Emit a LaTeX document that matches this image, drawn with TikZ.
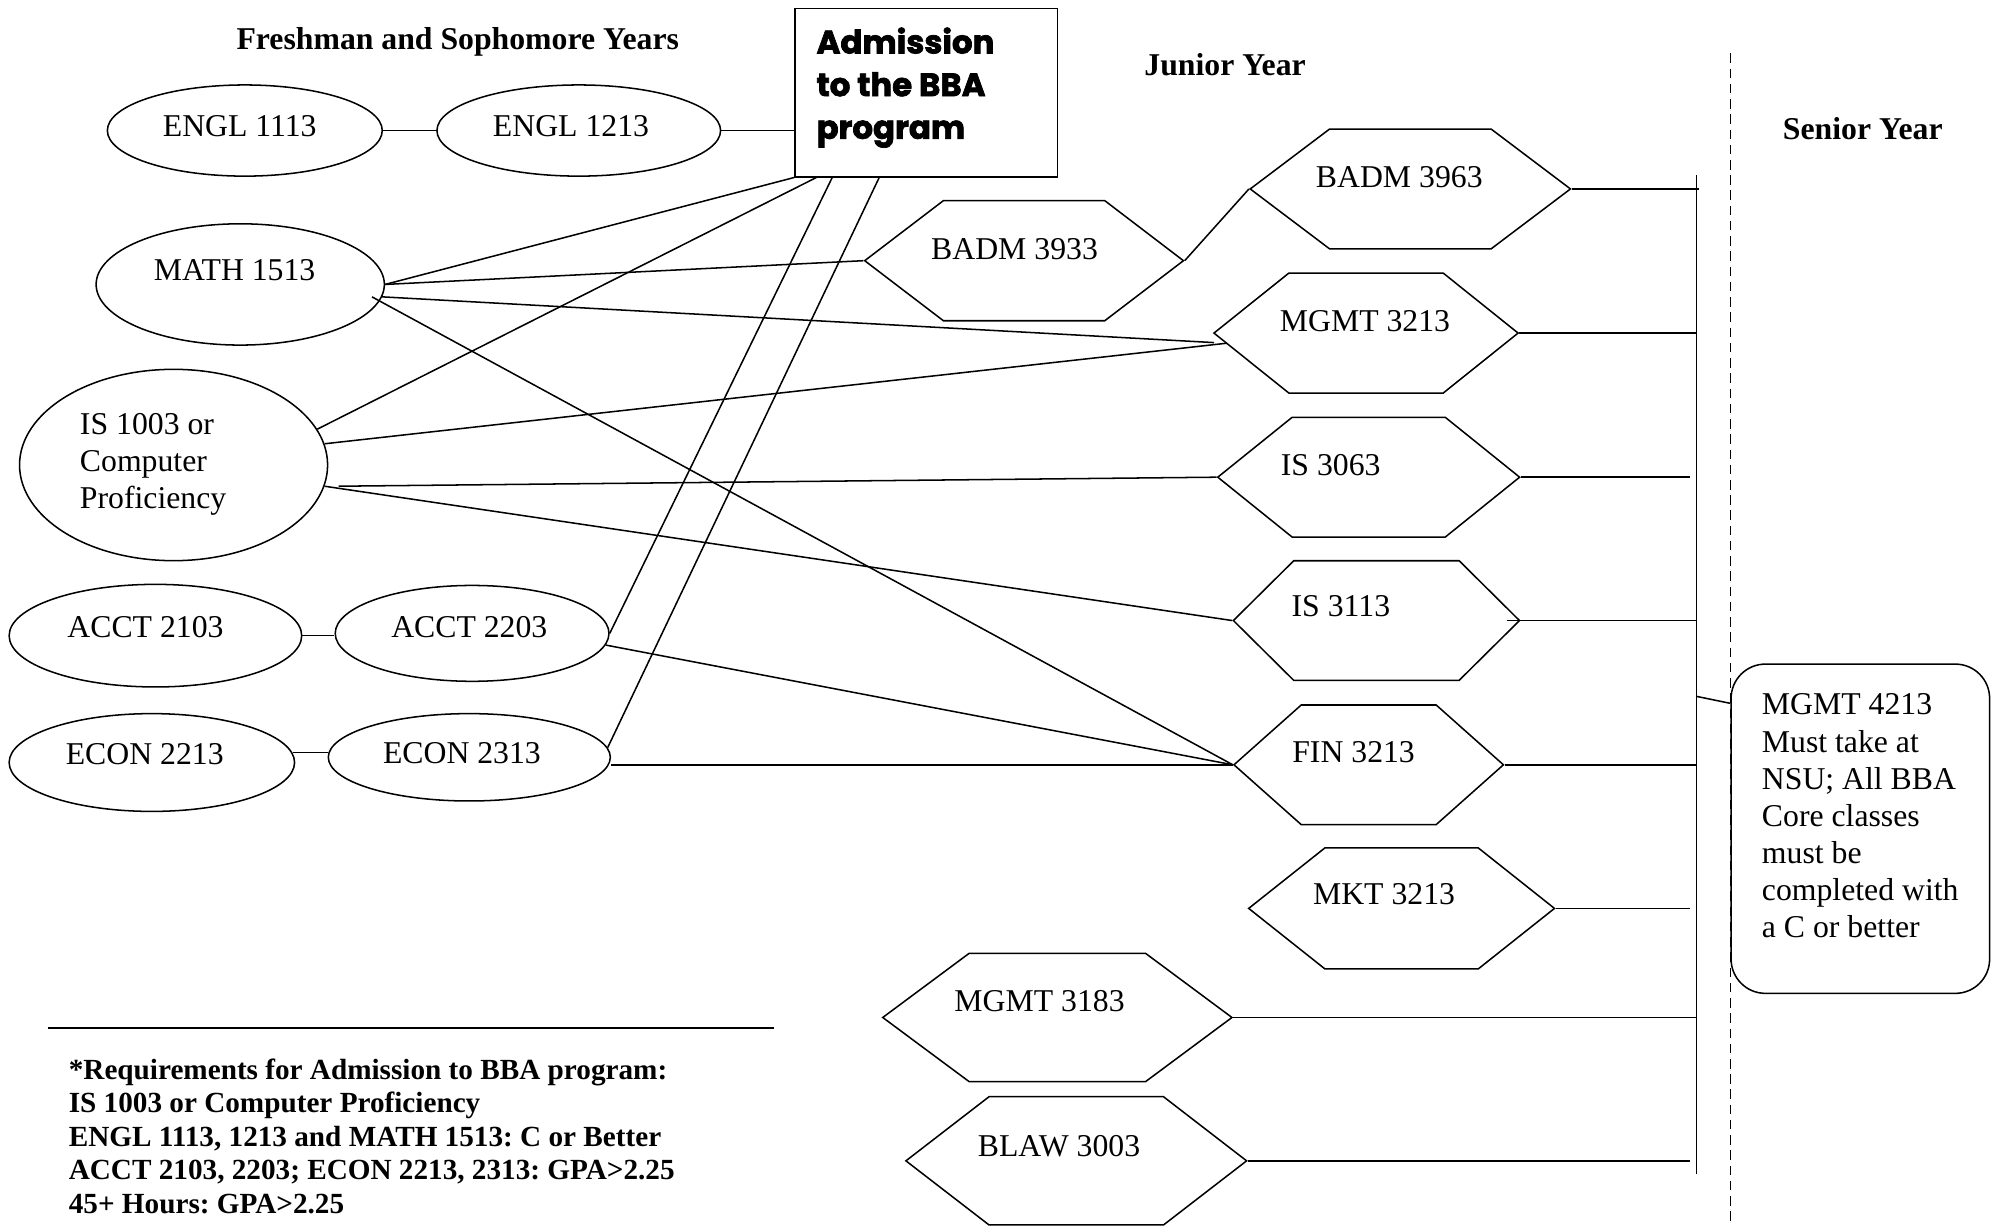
\documentclass[tikz,border=0pt]{standalone}
\usepackage{fontspec}
\setmainfont{Liberation Serif}
\newfontfamily\poppfont{Poppins}[BoldFeatures={FakeBold=2.2}]
\usetikzlibrary{shapes.geometric,shapes.symbols,calc}
\frenchspacing
\begin{document}
\begin{tikzpicture}[x=1pt,y=-1pt,line width=1.2pt,
  lbl/.style={font=\fontsize{25}{29.2}\selectfont, inner sep=0pt},
  hdr/.style={font=\bfseries\fontsize{25}{29.2}\selectfont, inner sep=0pt, anchor=base},
  course/.style={ellipse, draw, inner sep=0pt},
  hexa/.style={signal, signal to=west and east, draw, inner sep=0pt},
]
\useasboundingbox (0,0) rectangle (1568,964.75);

% headers
\node[hdr] (hfs) at (360.5,39.3) {Freshman and Sophomore Years};
\node[hdr] (hjr) at (964.8,59.5) {Junior Year};
\node[hdr] (hsr) at (1467,110.2) {Senior Year};

% admission box
\node[draw, minimum width=207, minimum height=132.6, inner sep=0pt] (adm) at (729.5,72.9) {};
\node[anchor=west, align=left, inner sep=0pt, font=\poppfont\bfseries\fontsize{25.5}{33.6}\selectfont] (admt) at (642.5,69) {Admission\\to the BBA\\program};

% freshman / sophomore courses
\node[course, minimum width=216.5, minimum height=71.8] (engl1113) at (192.8,102.8) {};
\node[course, minimum width=223.4, minimum height=71.8] (engl1213) at (455.8,102.8) {};
\node[course, minimum width=227, minimum height=95.5] (math) at (189.2,224) {};
\node[course, minimum width=242.6, minimum height=150.7] (is1003) at (136.7,366.2) {};
\node[course, minimum width=230.4, minimum height=80.8] (acct2103) at (122.4,500.6) {};
\node[course, minimum width=215.6, minimum height=75.5] (acct2203) at (371.8,498.8) {};
\node[course, minimum width=224.8, minimum height=77] (econ2213) at (119.6,600.5) {};
\node[course, minimum width=222.1, minimum height=68.8] (econ2313) at (369.6,596.4) {};

\node[lbl] (tengl1113) at (188.8,99.5) {ENGL 1113};
\node[lbl] (tengl1213) at (449.7,99.5) {ENGL 1213};
\node[lbl] (tmath) at (184.8,212.5) {MATH 1513};
\node[lbl, anchor=west, align=left] (tis1003) at (62.4,365.7) {IS 1003 or\\Computer\\Proficiency};
\node[lbl] (tacct2103) at (114.6,494.2) {ACCT 2103};
\node[lbl] (tacct2203) at (369.6,494.2) {ACCT 2203};
\node[lbl] (tecon2213) at (114,594.2) {ECON 2213};
\node[lbl] (tecon2313) at (363.8,593) {ECON 2313};

% junior courses
\node[hexa, minimum width=251, minimum height=94.6, signal pointer angle=74.7] (badm3933) at (806.5,205.3) {};
\node[hexa, minimum width=252.2, minimum height=94.4, signal pointer angle=74.1] (badm3963) at (1110.7,148.8) {};
\node[hexa, minimum width=239.5, minimum height=94.5, signal pointer angle=77.4] (mgmt3213) at (1075.8,262.3) {};
\node[hexa, minimum width=237.7, minimum height=94.3, signal pointer angle=77.7] (is3063) at (1077.9,375.8) {};
\node[hexa, minimum width=225.3, minimum height=94.2, signal pointer angle=89.5] (is3113) at (1084,488.7) {};
\node[hexa, minimum width=212.2, minimum height=94.2, signal pointer angle=83.3] (fin3213) at (1077.9,602.3) {};
\node[hexa, minimum width=240.8, minimum height=95.3, signal pointer angle=76.9] (mkt3213) at (1103.8,715.4) {};
\node[hexa, minimum width=275, minimum height=101, signal pointer angle=73.2] (mgmt3183) at (832.7,801.3) {};
\node[hexa, minimum width=268.3, minimum height=101, signal pointer angle=75.3] (blaw3003) at (847.6,914.2) {};

\node[lbl] (tbadm3963) at (1102,139.2) {BADM 3963};
\node[lbl] (tbadm3933) at (799,195.9) {BADM 3933};
\node[lbl] (tmgmt3213) at (1075,252.6) {MGMT 3213};
\node[lbl] (tis3063) at (1048,366.2) {IS 3063};
\node[lbl] (tis3113) at (1056,477.2) {IS 3113};
\node[lbl] (tfin3213) at (1066,592.5) {FIN 3213};
\node[lbl] (tmkt3213) at (1090,704.4) {MKT 3213};
\node[lbl] (tmgmt3183) at (818.7,788.4) {MGMT 3183};
\node[lbl] (tblaw3003) at (834,902.6) {BLAW 3003};

% senior
\coordinate (dtop) at (1363,42);
\coordinate (dbot) at (1363,964.75);
\draw[line width=1pt, dash pattern=on 7.5pt off 4.5pt] (dtop) -- (dbot);
\node[draw, fill=white, rounded corners=27pt, minimum width=203.6, minimum height=259.3, inner sep=0pt] (mgmt4213) at (1465.1,652.65) {};
\node[lbl, anchor=west, align=left] (tmgmt4213) at (1387,642.5) {MGMT 4213\\Must take at\\NSU; All BBA\\Core classes\\must be\\completed with\\a C or better};

% connectors, freshman/sophomore
\draw (engl1113.east) -- (engl1213.west);
\draw (engl1213.east) -- (engl1213.east -| adm.west);
\draw (acct2103.east) -- (acct2103.east -| acct2203.west);
\draw (econ2213.4) -- (econ2213.4 -| econ2313.west);

% to admission
\draw (math.east) -- (adm.south west);
\draw ($(adm.south west)+(17.5,0)$) -- (is1003.14);
\draw ($(adm.south west)+(30,0)$) -- (acct2203.east);
\draw ($(adm.south west)+(67,0)$) -- (econ2313.4);

% to junior courses
\draw (math.east) -- (badm3933.west);
\draw (math.-5) -- ($(mgmt3213.west)+(1,7.5)$);
\draw ($(math.-5)+(-8,0)$) -- (fin3213.west);
\draw (is1003.8) -- ($(mgmt3213.west)+(11,8)$);
\draw ($(is1003.-8)+(11,0)$) -- (is3063.west);
\draw (is1003.-8) -- (is3113.west);
\draw (acct2203.-5) -- (fin3213.west);
\draw (fin3213.west) -- (fin3213.west -| econ2313.east);
\draw (badm3933.east) -- (badm3963.west);

% bar
\coordinate (bartop) at (1336,138);
\coordinate (barbot) at (1336,924.7);
\coordinate (barmid) at (1336,548.4);
\draw (bartop) -- (barbot);
\draw (badm3963.east) -- ($(badm3963.east -| bartop)+(2,0)$);
\draw (mgmt3213.east) -- (mgmt3213.east -| bartop);
\draw (is3063.east) -- ($(is3063.east -| bartop)+(-5,0)$);
\draw ($(is3113.east)+(-11,0)$) -- (is3113.east -| bartop);
\draw (fin3213.east) -- (fin3213.east -| bartop);
\draw (mkt3213.east) -- ($(mkt3213.east -| bartop)+(-5,0)$);
\draw (mgmt3183.east) -- (mgmt3183.east -| bartop);
\draw (blaw3003.east) -- ($(blaw3003.east -| bartop)+(-5,0)$);
\draw (barmid) -- ($(mgmt4213.north west)+(0,31.5)$);

% requirements note
\coordinate (sepL) at (37.6,809.4);
\coordinate (sepR) at (609.4,809.4);
\draw (sepL) -- (sepR);
\node[anchor=west, align=left, inner sep=0pt, font=\bfseries\fontsize{23}{26.4}\selectfont] (req) at (53.6,894.9) {*Requirements for Admission to BBA program:\\IS 1003 or Computer Proficiency\\ENGL 1113, 1213 and MATH 1513: C or Better\\ACCT 2103, 2203; ECON 2213, 2313: GPA>2.25\\45+ Hours: GPA>2.25};
\end{tikzpicture}
\end{document}
